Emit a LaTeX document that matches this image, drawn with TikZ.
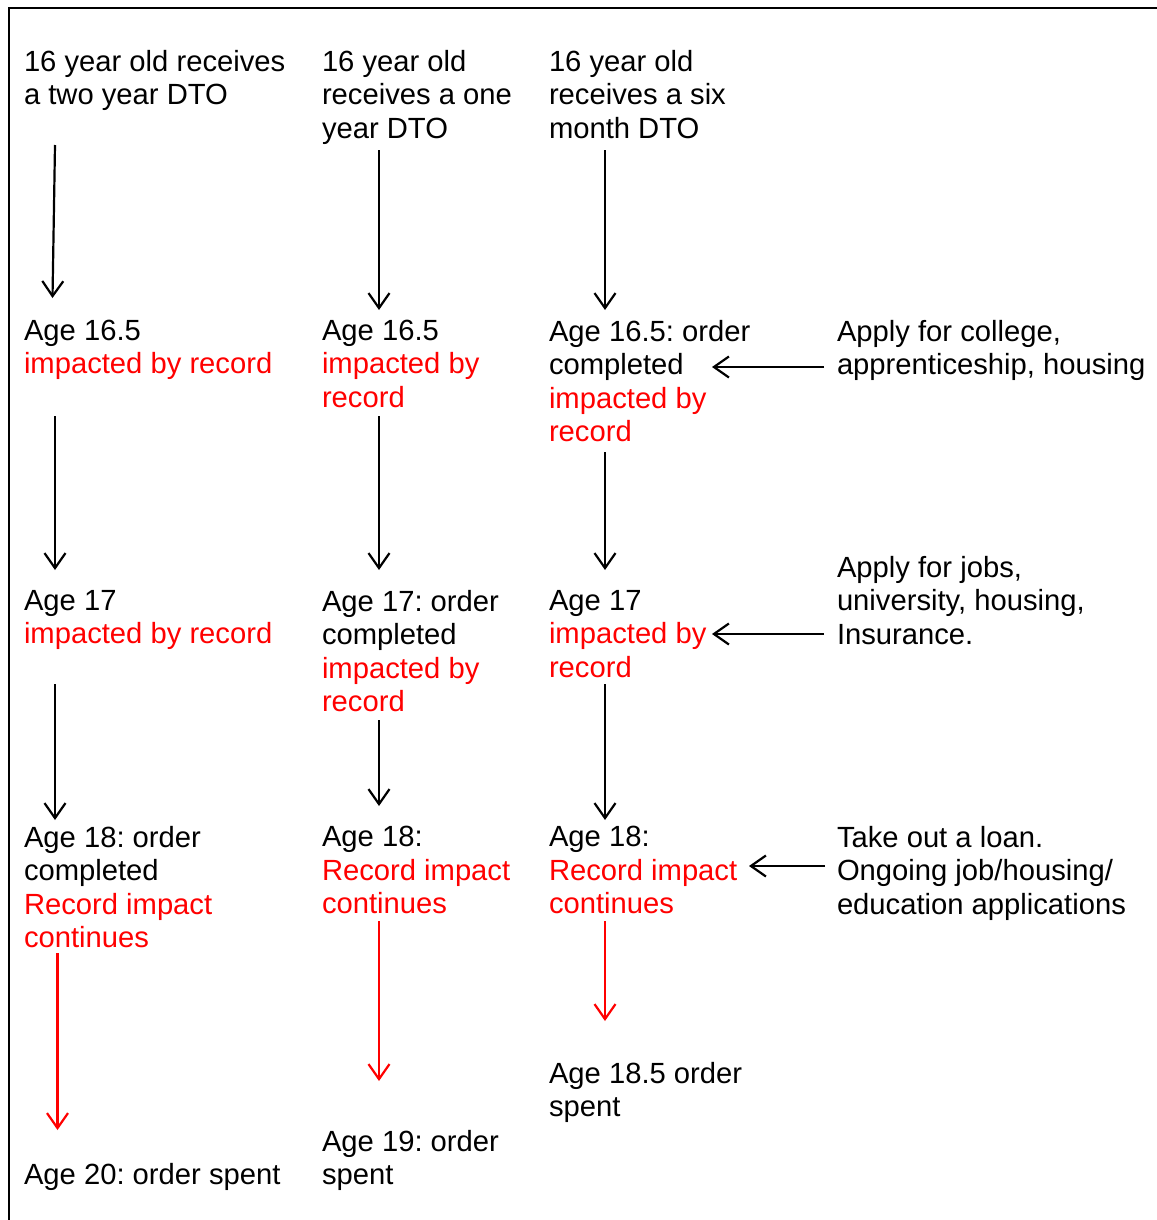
\documentclass[tikz,border=0pt]{standalone}
\usepackage{fontspec}
\setmainfont{Liberation Sans}
\usetikzlibrary{arrows.meta}
\frenchspacing
\begin{document}
\begin{tikzpicture}[x=1pt,y=-1pt,
  txt/.style={anchor=north west, inner sep=0pt, outer sep=0pt, align=left,
    font=\fontsize{29.2}{33.6}\selectfont},
  arr/.style={line width=2.2pt, -{Straight Barb[length=15pt,width=21pt,line width=2.2pt]}},
  redarr/.style={arr, draw=red}]
\useasboundingbox (0,0) rectangle (1156,1220);
\draw[line width=2.5pt] (9,1221) -- (9,8) -- (1157,8);
% column 1
\node[txt] (a0) at (24,50) {16 year old receives\\a two year DTO};
\node[txt] (a1) at (24,320) {Age 16.5\\\textcolor{red}{impacted by record}};
\node[txt] (a2) at (24,590) {Age 17\\\textcolor{red}{impacted by record}};
\node[txt] (a3) at (24,826) {Age 18: order\\completed\\\textcolor{red}{Record impact}\\\textcolor{red}{continues}};
\node[txt] (a4) at (24,1163) {Age 20: order spent};
% column 2
\node[txt] (b0) at (322,50) {16 year old\\receives a one\\year DTO};
\node[txt] (b1) at (322,320) {Age 16.5\\\textcolor{red}{impacted by}\\\textcolor{red}{record}};
\node[txt] (b2) at (322,590) {Age 17: order\\completed\\\textcolor{red}{impacted by}\\\textcolor{red}{record}};
\node[txt] (b3) at (322,826) {Age 18:\\\textcolor{red}{Record impact}\\\textcolor{red}{continues}};
\node[txt] (b4) at (322,1130) {Age 19: order\\spent};
% column 3
\node[txt] (c0) at (549,50) {16 year old\\receives a six\\month DTO};
\node[txt] (c1) at (549,320) {Age 16.5: order\\completed\\\textcolor{red}{impacted by}\\\textcolor{red}{record}};
\node[txt] (c2) at (549,590) {Age 17\\\textcolor{red}{impacted by}\\\textcolor{red}{record}};
\node[txt] (c3) at (549,826) {Age 18:\\\textcolor{red}{Record impact}\\\textcolor{red}{continues}};
\node[txt] (c4) at (549,1062) {Age 18.5 order\\spent};
% column 4
\node[txt] (d1) at (837,320) {Apply for college,\\apprenticeship, housing};
\node[txt] (d2) at (837,556) {Apply for jobs,\\university, housing,\\Insurance.};
\node[txt] (d3) at (837,826) {Take out a loan.\\Ongoing job/housing/\\education applications};
% arrow end points
\coordinate (a01) at (55,145);   \coordinate (a10) at (52.5,298);
\coordinate (a12) at (55,416);   \coordinate (a21) at (55,570);
\coordinate (a23) at (55,684);   \coordinate (a32) at (55,820);
\coordinate (a34) at (57.5,953); \coordinate (a43) at (57.5,1130);
\coordinate (b01) at (379,150);  \coordinate (b10) at (379,310);
\coordinate (b12) at (379,416);  \coordinate (b21) at (379,570);
\coordinate (b23) at (379,720);  \coordinate (b32) at (379,806);
\coordinate (b34) at (379,921);  \coordinate (b43) at (379,1081);
\coordinate (c01) at (605,150);  \coordinate (c10) at (605,310);
\coordinate (c12) at (605,452);  \coordinate (c21) at (605,570);
\coordinate (c23) at (605,684);  \coordinate (c32) at (605,820);
\coordinate (c34) at (605,921);  \coordinate (c43) at (605,1021);
\coordinate (d1s) at (824,367);  \coordinate (d1e) at (712,367);
\coordinate (d2s) at (824,634);  \coordinate (d2e) at (712,634);
\coordinate (d3s) at (825,866);  \coordinate (d3e) at (749,866);
% arrows
\draw[arr] (a01) -- (a10);
\draw[arr] (a12) -- (a21);
\draw[arr] (a23) -- (a32);
\draw[redarr] (a34) -- (a43);
\draw[arr] (b01) -- (b10);
\draw[arr] (b12) -- (b21);
\draw[arr] (b23) -- (b32);
\draw[redarr] (b34) -- (b43);
\draw[arr] (c01) -- (c10);
\draw[arr] (c12) -- (c21);
\draw[arr] (c23) -- (c32);
\draw[redarr] (c34) -- (c43);
\draw[arr] (d1s) -- (d1e);
\draw[arr] (d2s) -- (d2e);
\draw[arr] (d3s) -- (d3e);
\end{tikzpicture}
\end{document}
